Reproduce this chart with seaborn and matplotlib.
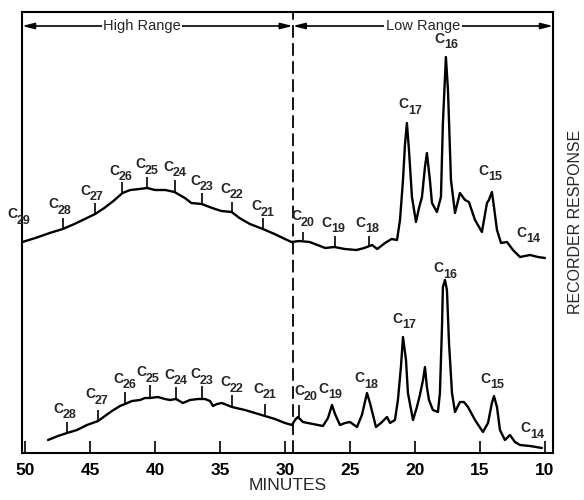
import matplotlib
matplotlib.use("Agg")
import matplotlib.pyplot as plt
import seaborn as sns
import pandas as pd

# ---------------- data (minutes, recorder response in arbitrary units) -------------
upper_t = [50.2, 49.2, 48.1, 47.1, 46.2, 45.4, 44.6, 43.9, 43.2, 42.5, 41.9, 41.2, 40.6,
           40.0, 39.2, 38.5, 37.7, 37.2, 36.4, 35.6, 34.9, 34.1, 33.5, 32.7, 31.7, 30.8,
           30.0, 29.5,
           28.9, 28.1, 27.3, 26.9, 26.2, 25.4, 24.5, 23.9, 23.5, 23.3, 22.9, 22.3, 21.8,
           21.38, 21.15, 20.92, 20.77, 20.62, 20.46, 20.23, 19.92, 19.69, 19.46, 19.23,
           19.08, 18.85, 18.69, 18.31, 18.0, 17.85, 17.62, 17.46, 17.23, 16.92, 16.54,
           16.15, 15.85, 15.38, 14.85, 14.46, 14.31, 14.08, 13.92, 13.69, 13.38, 12.92,
           12.46, 11.92, 11.15, 10.54, 10.0]
upper_y = [211, 215, 220, 224, 229, 234, 239, 245, 252, 260, 263, 264, 265,
           263, 263, 261, 255, 250, 249, 245, 242, 241, 235, 229, 224, 219,
           214, 211,
           212, 211, 207, 205, 206, 204, 203, 205, 207, 208, 204, 210, 214,
           213, 233, 273, 308, 330, 303, 256, 231, 245, 256, 286,
           300, 273, 250, 241, 256, 330, 396, 363, 273, 240, 260,
           253, 251, 233, 221, 250, 253, 261, 246, 223, 210, 211,
           203, 196, 198, 196, 195]

lower_t = [48.23, 47.46, 46.77, 46.0, 45.23, 44.38, 43.85, 43.31, 42.69, 42.31, 41.77,
           41.15, 40.77, 40.38, 39.77, 39.23, 38.85, 38.38, 37.85, 37.31, 36.69, 36.15,
           35.77, 35.54, 35.23, 34.85, 34.46, 34.08, 33.08, 32.31, 31.54, 30.77, 30.0,
           29.46, 29.23, 29.0, 28.62, 27.85, 27.08, 26.69, 26.38, 26.15, 25.77, 25.38,
           25.0, 24.46, 24.08, 23.69, 23.46, 23.0, 22.62, 22.15,
           21.92, 21.54, 21.31, 21.08, 20.92, 20.69, 20.54, 20.15, 19.85, 19.62, 19.38,
           19.23, 19.08, 18.92, 18.62, 18.23, 18.08, 17.92, 17.85, 17.69, 17.54, 17.38,
           17.15, 16.92, 16.54, 16.23, 15.92, 15.38, 14.77, 14.38, 14.08, 13.92, 13.69,
           13.46, 13.08, 12.69, 12.31, 11.92, 11.15, 10.69, 10.23]
lower_y = [13, 17, 20, 23, 28, 32, 37, 42, 47, 49, 52,
           53, 55, 55, 56, 54, 53, 54, 50, 53, 54, 54,
           52, 47, 49, 50, 48, 46, 43, 40, 37, 34, 30,
           28, 33, 36, 31, 29, 27, 35, 48, 39, 28, 30,
           31, 26, 38, 60, 50, 26, 30, 36,
           30, 33, 53, 86, 116, 93, 60, 33, 46, 58, 73,
           86, 66, 53, 43, 41, 60, 126, 166, 173, 163, 110,
           60, 41, 51, 51, 46, 33, 21, 30, 50, 57, 46,
           23, 13, 18, 11, 8, 7, 6, 5]

# carbon-number labels: name, label position (minutes, response), tick (x, y0, y1)
upper_names = ["29", "28", "27", "26", "25", "24", "23", "22", "21", "20", "19", "18",
               "17", "16", "15", "14"]
upper_lx = [50.5, 47.31, 44.85, 42.62, 40.62, 38.46, 36.38, 34.08, 31.69, 28.6, 26.31,
            23.69, 20.38, 17.62, 14.23, 11.31]
upper_ly = [235, 245, 258, 278, 285, 282, 268, 260, 243, 233, 226, 226, 345, 410, 278, 216]
upper_tick_x = [47.08, 44.62, 42.54, 40.62, 38.46, 36.38, 34.08, 31.69, 28.62, 26.15, 23.54]
upper_tick_y0 = [224, 239, 260, 265, 261, 250, 241, 224, 213, 206, 207]
upper_tick_y1 = [235, 250, 271, 276, 273, 260, 251, 235, 221, 217, 217]

lower_names = ["28", "27", "26", "25", "24", "23", "22", "21", "20", "19", "18", "17",
               "16", "15", "14"]
lower_lx = [46.92, 44.46, 42.31, 40.54, 38.38, 36.38, 34.08, 31.54, 28.4, 26.54, 23.77,
            20.85, 17.69, 14.08, 11.0]
lower_ly = [40, 55, 70, 77, 74, 75, 67, 60, 58, 60, 71, 130, 181, 70, 21]
lower_tick_x = [46.77, 44.38, 42.31, 40.38, 38.38, 36.38, 34.08, 31.54, 28.92]
lower_tick_y0 = [20, 32, 49, 55, 54, 54, 47, 38, 36]
lower_tick_y1 = [31, 43, 61, 68, 66, 67, 58, 49, 48]

x_ticks = [50, 45, 40, 35, 30, 25, 20, 15, 10]
range_split = 29.4

# ---------------- figure ----------------
sns.set_theme(style="white")
plt.rcParams["font.family"] = ["Liberation Sans", "DejaVu Sans"]

fig = plt.figure(figsize=(5.84, 5.0), dpi=100)
ax = fig.add_axes([22 / 584, 47 / 500, 531 / 584, 441 / 500])

df = pd.concat([
    pd.DataFrame({"minutes": upper_t, "response": upper_y, "trace": "upper"}),
    pd.DataFrame({"minutes": lower_t, "response": lower_y, "trace": "lower"}),
])
sns.lineplot(data=df, x="minutes", y="response", units="trace", estimator=None,
             sort=False, color="black", linewidth=1.7, ax=ax, legend=False)
for ln in ax.lines:
    ln.set_solid_joinstyle("round")
    ln.set_solid_capstyle("round")

ax.set_xlim(50.23, 9.38)
ax.set_ylim(0, 441)
ax.set_xticks(x_ticks)
ax.set_xticklabels([str(v) for v in x_ticks], fontsize=12.5, fontweight="bold")
ax.set_yticks([])
ax.tick_params(axis="x", direction="in", length=9, width=1.2, pad=7, colors="black",
               bottom=True)
for s in ax.spines.values():
    s.set_color("black")
    s.set_linewidth(1.5)
ax.set_xlabel("MINUTES", fontsize=12.5, labelpad=0)
ax.set_ylabel("")
fig.text(576 / 584, 1 - 222 / 500, "RECORDER RESPONSE", rotation=90, ha="center",
         va="center", fontsize=11.5)

ax.axvline(range_split, color="black", linestyle=(0, (7, 3)), linewidth=1.3)

# range arrows
arrow_y = 427
for x0, x1 in [(50.23, range_split), (range_split, 9.38)]:
    ax.annotate("", xy=(x0, arrow_y), xytext=(x1, arrow_y),
                arrowprops=dict(arrowstyle="<|-|>,head_length=0.6,head_width=0.15",
                                color="black", lw=1.2, shrinkA=0, shrinkB=0))
ax.text(41.0, arrow_y, "High Range", ha="center", va="center", fontsize=10.5,
        bbox=dict(facecolor="white", edgecolor="none", pad=1))
ax.text(19.38, arrow_y, "Low Range", ha="center", va="center", fontsize=10.5,
        bbox=dict(facecolor="white", edgecolor="none", pad=1))


def carbon_label(n, x, y):
    ax.annotate("C", (x, y), xytext=(-1.0, 2.8), textcoords="offset points",
                ha="right", va="center", fontsize=10, fontweight="bold",
                annotation_clip=False)
    ax.annotate(n, (x, y), xytext=(-1.5, -1.8), textcoords="offset points",
                ha="left", va="center", fontsize=9, fontweight="bold",
                annotation_clip=False)


for n, x, y in zip(upper_names, upper_lx, upper_ly):
    carbon_label(n, x, y)
for n, x, y in zip(lower_names, lower_lx, lower_ly):
    carbon_label(n, x, y)
ax.vlines(upper_tick_x, upper_tick_y0, upper_tick_y1, color="black", linewidth=1.2)
ax.vlines(lower_tick_x, lower_tick_y0, lower_tick_y1, color="black", linewidth=1.2)

fig.savefig("out.png", dpi=100, facecolor="white")
